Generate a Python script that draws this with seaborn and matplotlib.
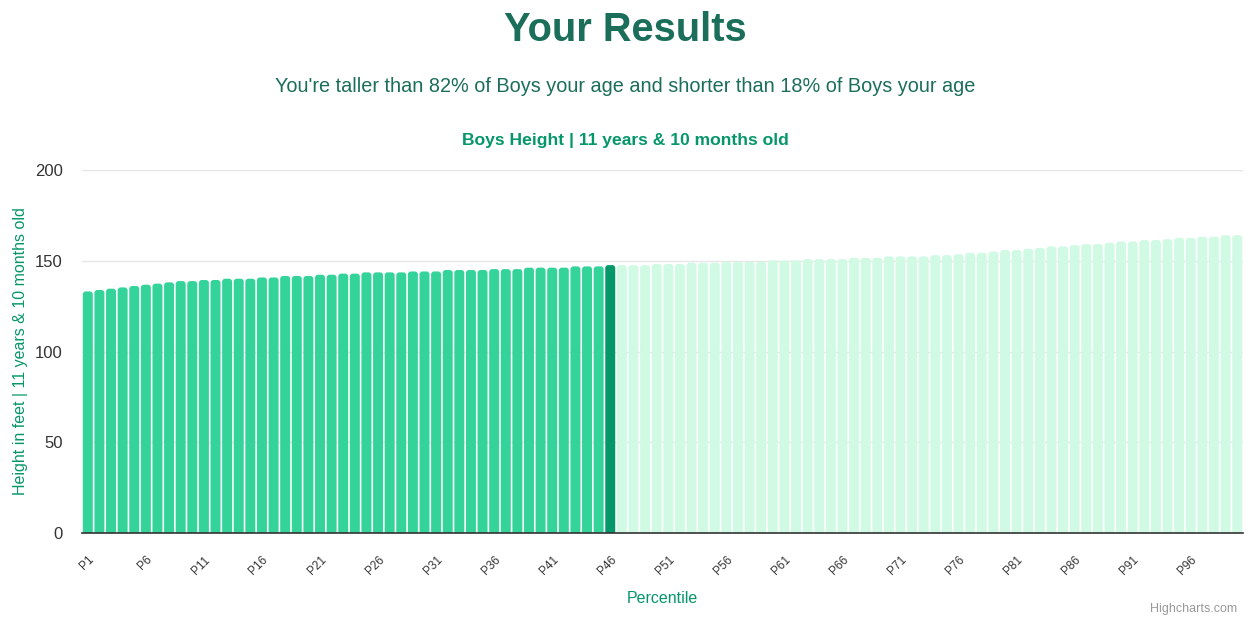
import matplotlib
matplotlib.use("Agg")
import matplotlib.pyplot as plt
from matplotlib.patches import FancyBboxPatch
import seaborn as sns
import pandas as pd

percentiles = [f"P{i}" for i in range(1, 101)]
heights = [
    133.1, 133.9, 134.6, 135.3, 136.1, 136.8, 137.4, 138.1, 138.8, 138.8,
    139.4, 139.4, 140.1, 140.1, 140.1, 140.8, 140.8, 141.6, 141.6, 141.6,
    142.3, 142.3, 142.9, 142.9, 143.6, 143.6, 143.6, 143.6, 144.1, 144.1,
    144.1, 144.9, 144.9, 144.9, 144.9, 145.4, 145.4, 145.4, 146.2, 146.2,
    146.2, 146.2, 146.9, 146.9, 146.9, 147.6, 147.6, 147.6, 147.6, 148.2,
    148.2, 148.2, 148.9, 148.9, 148.9, 149.5, 149.5, 149.5, 149.5, 150.2,
    150.2, 150.2, 150.9, 150.9, 150.9, 150.9, 151.6, 151.6, 151.6, 152.4,
    152.4, 152.4, 152.4, 153.1, 153.1, 153.6, 154.4, 154.4, 155.1, 155.9,
    155.9, 156.6, 157.1, 157.9, 157.9, 158.6, 159.2, 159.2, 159.9, 160.6,
    160.6, 161.4, 161.4, 161.9, 162.6, 162.6, 163.3, 163.3, 164.1, 164.1,
]
user_percentile = "P46"
tick_labels = [f"P{i}" for i in range(1, 101, 5)]

below_color = "#34d399"
user_color = "#059669"
above_color = "#d1fae5"

user_idx = percentiles.index(user_percentile)
colors = [below_color if i < user_idx else (user_color if i == user_idx else above_color)
          for i in range(len(percentiles))]

df = pd.DataFrame({"percentile": percentiles, "height": heights})

sns.set_theme(style="white")
plt.rcParams["font.family"] = ["Liberation Sans", "DejaVu Sans"]

W, H = 1250, 618
fig = plt.figure(figsize=(W / 100, H / 100), dpi=100)
ax_left, ax_right, ax_top, ax_bottom = 82, 1243, 170, 533
ax = fig.add_axes([ax_left / W, 1 - ax_bottom / H, (ax_right - ax_left) / W,
                   (ax_bottom - ax_top) / H])

sns.barplot(data=df, x="percentile", y="height", hue="percentile",
            palette=colors, legend=False, ax=ax, width=0.86,
            saturation=1, linewidth=0)

ax.set_xlim(-0.5, len(percentiles) - 0.5)
ax.set_ylim(0, 200)

# rounded tops (Highcharts-style border radius)
x_per_px = len(percentiles) / (ax_right - ax_left)
y_per_px = 200 / (ax_bottom - ax_top)
radius_px = 3
r = radius_px * x_per_px
aspect = y_per_px / x_per_px
for rect in list(ax.patches):
    x0, y0 = rect.get_x(), rect.get_y()
    w, h = rect.get_width(), rect.get_height()
    extra = 4
    fb = FancyBboxPatch((x0, y0 - extra), w, h + extra,
                        boxstyle=f"round,pad=0,rounding_size={r}",
                        mutation_aspect=aspect, facecolor=rect.get_facecolor(),
                        linewidth=0, zorder=rect.get_zorder())
    rect.remove()
    ax.add_patch(fb)

ax.set_yticks([0, 50, 100, 150, 200])
ax.yaxis.grid(True, color="#e6e6e6", linewidth=1)
ax.set_axisbelow(True)
for s in ["top", "right", "left"]:
    ax.spines[s].set_visible(False)
ax.spines["bottom"].set_color("#333333")
ax.spines["bottom"].set_linewidth(1.2)
ax.spines["bottom"].set_zorder(5)

ax.tick_params(axis="y", length=0, labelsize=12, labelcolor="#333333", pad=14)
tick_pos = [percentiles.index(t) for t in tick_labels]
ax.set_xticks(tick_pos)
ax.set_xticklabels(tick_labels, rotation=45, ha="right", rotation_mode="anchor",
                   fontsize=8.5, color="#333333")
ax.tick_params(axis="x", length=0, pad=15)

ax.set_xlabel("Percentile", fontsize=11.5, color="#059669", labelpad=10)
ax.set_ylabel("Height in feet | 11 years & 10 months old", fontsize=11.5,
              color="#059669", labelpad=5)

fig.text(0.5, 1 - 30 / H, "Your Results", ha="center", va="center",
         fontsize=28.7, fontweight="bold", color="#1a6e5a")
fig.text(0.5, 1 - 87 / H,
         "You're taller than 82% of Boys your age and shorter than 18% of Boys your age",
         ha="center", va="center", fontsize=14.3, color="#1a6e5a")
fig.text(625 / W, 1 - 140 / H, "Boys Height | 11 years & 10 months old",
         ha="center", va="center", fontsize=12.6, fontweight="bold", color="#059669")
fig.text(1237 / W, 1 - 609 / H, "Highcharts.com", ha="right", va="center",
         fontsize=9, color="#999999")

fig.savefig("out.png", dpi=100)
